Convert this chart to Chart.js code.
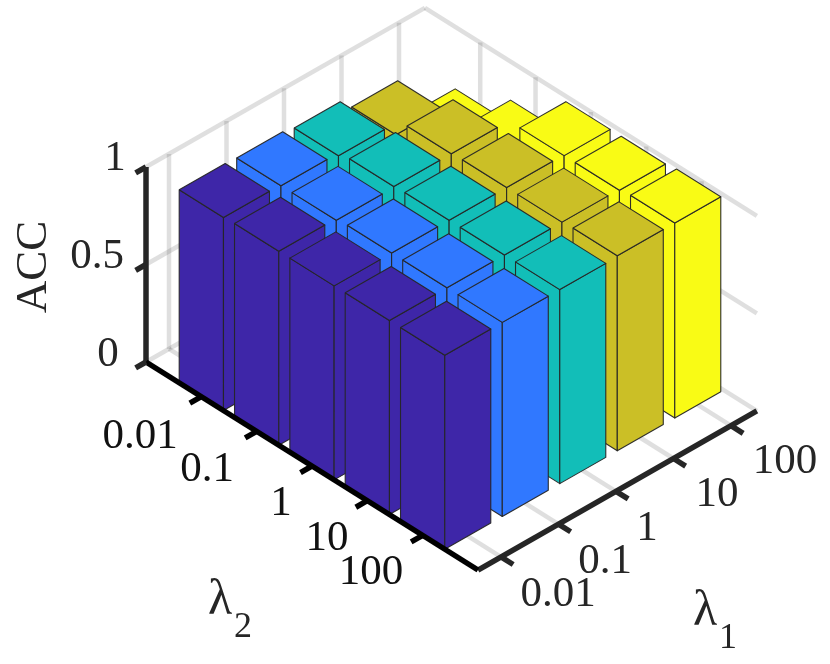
<!DOCTYPE html>
<html>
<head>
<meta charset="utf-8">
<title>ACC vs lambda</title>
<script src="https://cdn.jsdelivr.net/npm/chart.js@4/dist/chart.umd.min.js"></script>
<style>
  html, body { margin: 0; padding: 0; background: #fff; }
  canvas { display: block; }
</style>
</head>
<body>
<canvas id="chart" width="830" height="664"></canvas>
<script>
// Tick labels shared by both lambda axes
const lambdaTicks = ["0.01", "0.1", "1", "10", "100"]
const accTicks = [0, 0.5, 1]

// ACC per lambda_1 column, one value per lambda_2 row
const accLambda1_001 = [0.99, 0.995, 0.995, 0.995, 0.995]
const accLambda1_01 = [0.985, 0.985, 0.995, 0.995, 0.995]
const accLambda1_1 = [0.97, 0.99, 0.995, 0.995, 0.995]
const accLambda1_10 = [0.91, 0.99, 0.995, 0.995, 1]
const accLambda1_100 = [0.7, 0.82, 0.99, 0.99, 1]

const accColumns = [accLambda1_001, accLambda1_01, accLambda1_1, accLambda1_10, accLambda1_100]
const columnColors = ["#3e26a8", "#3078ff", "#12beb8", "#cbbf26", "#f9fb15"]

// View of the 3D box, in the pixel-sized units of the x and y scales
const origin = { x: 146, y: 362 }
const unitL1 = { x: 57.5, y: -32.8 }
const unitL2 = { x: 55.33, y: 34.67 }
const unitZ = 195
const l1Range = [0.6, 5.45]
const l2Range = [0, 6]
const halfBar = 0.4

function project(l1, l2, z) {
  const a = l1 - l1Range[0]
  return {
    x: origin.x + a * unitL1.x + l2 * unitL2.x,
    y: origin.y + a * unitL1.y + l2 * unitL2.y - z * unitZ,
  }
}

const datasets = []

function addLine(points, color, width) {
  datasets.push({
    data: points,
    showLine: true,
    fill: false,
    borderColor: color,
    borderWidth: width,
    borderCapStyle: "butt",
    pointRadius: 0,
    tension: 0,
  })
}

function addFace(points, color) {
  datasets.push({
    data: points.concat([points[0]]),
    showLine: true,
    fill: "shape",
    backgroundColor: color,
    borderColor: "rgba(38,38,38,0.95)",
    borderWidth: 1.1,
    borderJoinStyle: "round",
    pointRadius: 0,
    tension: 0,
  })
}

// Grid on the floor and on the two back walls
const gridColor = "rgba(38,38,38,0.15)"
const gridWidth = 4.5
for (let k = 1; k <= lambdaTicks.length; k++) {
  addLine([project(k, l2Range[0], 0), project(k, l2Range[1], 0)], gridColor, gridWidth)
  addLine([project(l1Range[0], k, 0), project(l1Range[1], k, 0)], gridColor, gridWidth)
  addLine([project(k, l2Range[0], 0), project(k, l2Range[0], 1)], gridColor, gridWidth)
  addLine([project(l1Range[1], k, 0), project(l1Range[1], k, 1)], gridColor, gridWidth)
}
accTicks.forEach((z) => {
  addLine([project(l1Range[0], l2Range[0], z), project(l1Range[1], l2Range[0], z)], gridColor, gridWidth)
  addLine([project(l1Range[1], l2Range[0], z), project(l1Range[1], l2Range[1], z)], gridColor, gridWidth)
})

// Bars, back to front
for (let c = accColumns.length - 1; c >= 0; c--) {
  for (let r = 0; r < accColumns[c].length; r++) {
    const z = accColumns[c][r]
    const l1a = c + 1 - halfBar
    const l1b = c + 1 + halfBar
    const l2a = r + 1 - halfBar
    const l2b = r + 1 + halfBar
    addFace([project(l1a, l2a, 0), project(l1a, l2b, 0), project(l1a, l2b, z), project(l1a, l2a, z)], columnColors[c])
    addFace([project(l1a, l2b, 0), project(l1b, l2b, 0), project(l1b, l2b, z), project(l1a, l2b, z)], columnColors[c])
    addFace([project(l1a, l2a, z), project(l1a, l2b, z), project(l1b, l2b, z), project(l1b, l2a, z)], columnColors[c])
  }
}

// Axes and tick marks
const axisColor = "#262626"
const axisWidth = 5.5
addLine([project(l1Range[0], l2Range[0], 0), project(l1Range[0], l2Range[0], 1)], axisColor, axisWidth)
addLine([project(l1Range[0], l2Range[1], 0), project(l1Range[1], l2Range[1], 0)], axisColor, axisWidth)
addLine([project(l1Range[0], l2Range[0], 0), project(l1Range[0], l2Range[1], 0)], "#000", axisWidth)
accTicks.forEach((z) => {
  addLine([project(l1Range[0], l2Range[0], z), project(l1Range[0] - 0.18, l2Range[0], z)], axisColor, axisWidth)
})
for (let k = 1; k <= lambdaTicks.length; k++) {
  addLine([project(l1Range[0], k, 0), project(l1Range[0] - 0.2, k, 0)], "#000", axisWidth)
  addLine([project(k, l2Range[1], 0), project(k, l2Range[1] + 0.22, 0)], axisColor, axisWidth)
}

// Chart.js paints the last dataset first, so flip to keep the painter order
datasets.reverse()

// Label centres next to each tick
const accLabelPos = [{ x: 108, y: 355 }, { x: 97, y: 257 }, { x: 115, y: 159 }]
const l2LabelPos = [{ x: 140, y: 437 }, { x: 207, y: 470 }, { x: 281, y: 504 }, { x: 327, y: 539 }, { x: 371, y: 573 }]
const l1LabelPos = [{ x: 558, y: 595 }, { x: 605, y: 562 }, { x: 647, y: 529 }, { x: 717, y: 495 }, { x: 785, y: 462 }]

const textLayer = {
  id: "textLayer",
  afterDraw(chart) {
    const { ctx } = chart
    ctx.save()
    ctx.textAlign = "center"
    ctx.textBaseline = "middle"
    ctx.fillStyle = "#262626"
    ctx.font = "43px 'Liberation Serif'"
    accTicks.forEach((t, i) => ctx.fillText(String(t), accLabelPos[i].x, accLabelPos[i].y))
    lambdaTicks.forEach((t, i) => {
      ctx.fillText(t, l1LabelPos[i].x, l1LabelPos[i].y)
      ctx.fillStyle = "#111"
      ctx.fillText(t, l2LabelPos[i].x, l2LabelPos[i].y)
      ctx.fillStyle = "#262626"
    })

    // Axis titles
    ctx.font = "45px 'Liberation Serif'"
    ctx.save()
    ctx.translate(34, 267)
    ctx.rotate(-Math.PI / 2)
    ctx.fillText("ACC", 0, 0)
    ctx.restore()

    ctx.font = "50px 'Liberation Serif'"
    ctx.fillText("λ", 220, 601)
    ctx.fillText("λ", 705, 612)
    ctx.font = "36px 'Liberation Serif'"
    ctx.fillText("2", 243, 628)
    ctx.fillText("1", 728, 639)
    ctx.restore()
  },
}

new Chart(document.getElementById("chart"), {
  type: "scatter",
  data: { datasets },
  plugins: [textLayer],
  options: {
    responsive: false,
    animation: false,
    layout: { padding: 0 },
    plugins: { legend: { display: false }, tooltip: { enabled: false } },
    scales: {
      x: { type: "linear", display: false, min: 0, max: 830 },
      y: { type: "linear", display: false, min: 0, max: 664, reverse: true },
    },
  },
})
</script>
</body>
</html>
